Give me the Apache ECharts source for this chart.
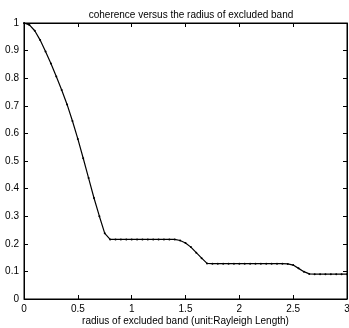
<!DOCTYPE html>
<html>
<head>
<meta charset="utf-8">
<script src="https://cdn.jsdelivr.net/npm/echarts@6/dist/echarts.min.js"></script>
<style>
  html, body { margin: 0; padding: 0; background: #fff; }
  #chart { width: 349px; height: 328px; }
</style>
</head>
<body>
<div id="chart"></div>
<script>
const titleText = 'coherence versus the radius of excluded band';
const xName = 'radius of excluded band (unit:Rayleigh Length)';

// radius samples (Rayleigh length)
const radius = [
  0, 0.05, 0.1, 0.15, 0.2, 0.25, 0.3, 0.35, 0.4, 0.45,
  0.5, 0.55, 0.6, 0.65, 0.7, 0.75, 0.8, 0.85, 0.9, 0.95,
  1, 1.05, 1.1, 1.15, 1.2, 1.25, 1.3, 1.35, 1.4, 1.45,
  1.5, 1.55, 1.6, 1.65, 1.7, 1.75, 1.8, 1.85, 1.9, 1.95,
  2, 2.05, 2.1, 2.15, 2.2, 2.25, 2.3, 2.35, 2.4, 2.45,
  2.5, 2.55, 2.6, 2.65, 2.7, 2.75, 2.8, 2.85, 2.9, 2.95, 3
];
// coherence
const coherence = [
  1.0, 0.993, 0.972, 0.938, 0.897, 0.853, 0.806, 0.757, 0.705, 0.645,
  0.58, 0.51, 0.438, 0.366, 0.30, 0.238, 0.216, 0.216, 0.216, 0.216,
  0.216, 0.216, 0.216, 0.216, 0.216, 0.216, 0.216, 0.216, 0.216, 0.212,
  0.203, 0.188, 0.168, 0.148, 0.129, 0.128, 0.128, 0.128, 0.128, 0.128,
  0.128, 0.128, 0.128, 0.128, 0.128, 0.128, 0.128, 0.128, 0.128, 0.127,
  0.123, 0.111, 0.099, 0.091, 0.09, 0.09, 0.09, 0.09, 0.09, 0.09, 0.09
];

const font = 'Liberation Sans, Arial, sans-serif';
const chart = echarts.init(document.getElementById('chart'));

const axisLine = { show: true, onZero: false, lineStyle: { color: '#000', width: 1 } };
const tick = { show: true, inside: true, length: 4, lineStyle: { color: '#000' } };

chart.setOption({
  animation: false,
  title: {
    text: titleText,
    left: 186,
    top: 5,
    textAlign: 'center',
    textStyle: { fontFamily: font, fontSize: 10, fontWeight: 'normal', color: '#000' }
  },
  grid: {
    left: 24, right: 2, top: 23, bottom: 29,
    containLabel: false,
    outerBoundsMode: 'none',
    show: true, borderColor: '#000', borderWidth: 1, backgroundColor: 'transparent'
  },
  xAxis: [
    {
      type: 'value',
      min: 0, max: 3, interval: 0.5,
      position: 'bottom',
      name: xName,
      nameLocation: 'middle',
      nameGap: 17,
      nameMoveOverlap: false,
      nameTextStyle: { fontFamily: font, fontSize: 10, color: '#000' },
      axisLine: axisLine,
      axisTick: tick,
      axisLabel: { fontFamily: font, fontSize: 10, color: '#000', margin: 5 },
      splitLine: { show: false }
    },
    {
      type: 'value',
      min: 0, max: 3, interval: 0.5,
      position: 'top',
      axisLine: axisLine,
      axisTick: tick,
      axisLabel: { show: false },
      splitLine: { show: false }
    }
  ],
  yAxis: [
    {
      type: 'value',
      min: 0, max: 1, interval: 0.1,
      position: 'left',
      axisLine: axisLine,
      axisTick: tick,
      axisLabel: { fontFamily: font, fontSize: 10, color: '#000', margin: 5 },
      splitLine: { show: false }
    },
    {
      type: 'value',
      min: 0, max: 1, interval: 0.1,
      position: 'right',
      axisLine: axisLine,
      axisTick: tick,
      axisLabel: { show: false },
      splitLine: { show: false }
    }
  ],
  series: [
    {
      type: 'line',
      data: radius.map((r, i) => [r, coherence[i]]),
      symbol: 'circle',
      symbolSize: 2,
      showSymbol: true,
      itemStyle: { color: '#000' },
      lineStyle: { color: '#000', width: 1.2 }
    },
    {
      // binds the top/right axes so their ticks draw
      type: 'line',
      xAxisIndex: 1,
      yAxisIndex: 1,
      data: [],
      silent: true
    }
  ]
});
</script>
</body>
</html>
